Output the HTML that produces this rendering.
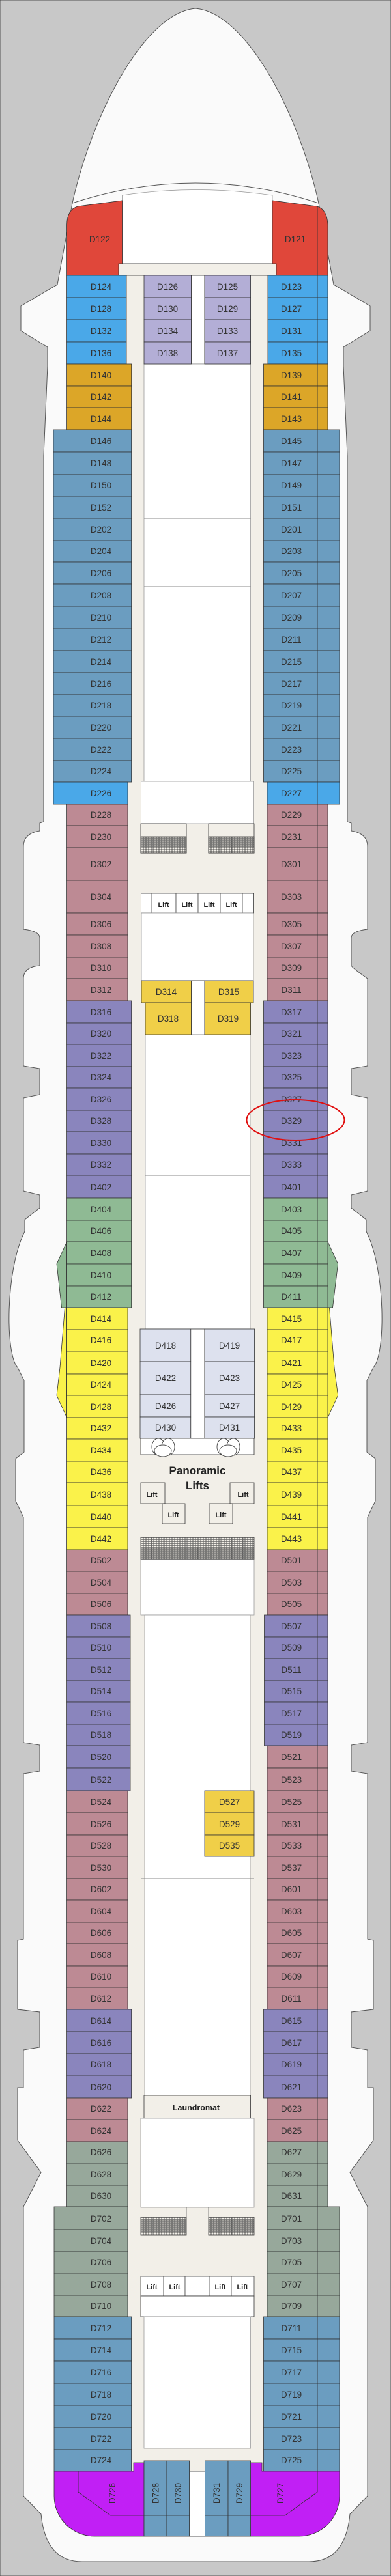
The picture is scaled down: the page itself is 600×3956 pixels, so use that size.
<!DOCTYPE html>
<html><head><meta charset="utf-8"><style>
html,body{margin:0;padding:0;background:#c8c8c8}
svg{display:block}
text{font-family:"Liberation Sans",sans-serif;font-size:13.5px;fill:#333;text-anchor:middle}
.k{font-weight:bold;font-size:11px;fill:#222}
rect,polygon{stroke:#333;stroke-width:.8}
.r{fill:#e0473a}.b{fill:#4aa8e8}.l{fill:#b3aed6}.g{fill:#dca628}.s{fill:#6b9dc0}.m{fill:#bd8a94}.p{fill:#8a85bd}.n{fill:#8fba94}.y{fill:#faf24a}.q{fill:#97a89b}.o{fill:#f0cf48}.w{fill:#dde1ee}.v{fill:#c11ff5}
.wh{fill:#fff;stroke:#999;stroke-width:.8}
.be{fill:#f2efe8;stroke:none}
.lf{fill:#fff;stroke:#555;stroke-width:.9}
</style></head><body>
<svg width="600" height="3956" viewBox="0 0 600 3956" xmlns="http://www.w3.org/2000/svg">
<defs><pattern id="st" width="4" height="3" patternUnits="userSpaceOnUse"><rect width="4" height="3" fill="#f2efe8" stroke="none"/><line x1="0" y1="0.5" x2="4" y2="0.5" stroke="#777" stroke-width=".6"/></pattern></defs>
<rect x="0" y="0" width="600" height="3956" fill="#c8c8c8" stroke="none"/>
<!-- hull -->
<path d="M300,13 C220,20 140,180 111,312 L88,437 L32,470 L32,508 L73,533 L73,562 L67,700 L67,1262 L61,1264 L61,1276 Q36,1280 36,1300 L36,1427 Q61,1430 61,1440 L61,1483 Q36,1485 36,1503 L36,1637 L61,1641 L61,1681 L36,1686 L36,1829 L61,1835 L61,1855 L38,1873 L38,1891 C8,1950 8,2080 27,2100 L37,2120 L37,2230 L24,2240 L24,2305 L36,2330 L36,2676 L61,2680 L61,2720 L36,2724 L36,2978 L27,2980 L27,3086 L61,3090 L61,3144 L36,3148 L36,3206 L27,3206 L27,3287 L63,3336 L36,3389 L36,3833 L63,3861 Q70,3934 126,3934 L474,3934 Q530,3934 537,3861 L564,3833 L564,3389 L537,3336 L573,3287 L573,3206 L564,3206 L564,3148 L539,3144 L539,3090 L573,3086 L573,2980 L564,2978 L564,2724 L539,2720 L539,2680 L564,2676 L564,2330 L576,2305 L576,2240 L563,2230 L563,2120 L573,2100 C592,2080 592,1950 562,1891 L562,1873 L539,1855 L539,1835 L564,1829 L564,1686 L539,1681 L539,1641 L564,1637 L564,1503 Q539,1485 539,1483 L539,1440 Q539,1430 564,1427 L564,1300 Q564,1280 539,1276 L539,1264 L533,1262 L533,700 L527,562 L527,533 L568,508 L568,470 L512,437 L489,312 C460,180 380,20 300,13 Z" fill="#fafafa" stroke="#555" stroke-width="1"/>
<path d="M111,312 Q300,250 489,312" fill="none" stroke="#555" stroke-width="1"/>
<!-- bow hole -->
<path d="M187.5,300 Q300,283 418,300 L418,405 L187.5,405 Z" fill="#fff" stroke="#999" stroke-width=".8"/>
<path d="M102.6,423 L102.6,345 Q103,322 119,317 L187.5,308 L187.5,423 Z" class="r" stroke="#333" stroke-width=".8"/>
<path d="M503,423 L503,345 Q502,322 487,317 L418,308 L418,423 Z" class="r" stroke="#333" stroke-width=".8"/>
<text x="153" y="372">D122</text><text x="453" y="372">D121</text>
<!-- corridor base -->
<rect x="182" y="405" width="242" height="3390" class="be"/>
<rect x="182" y="405" width="242" height="18" fill="#f2efe8" stroke="#888" stroke-width=".8"/>
<rect x="293.5" y="423" width="20.5" height="136" fill="#fff" stroke="none"/>
<rect x="221" y="559" width="163.6" height="641" class="wh"/>
<line x1="221" y1="796" x2="384.6" y2="796" stroke="#888"/>
<line x1="221" y1="901" x2="384.6" y2="901" stroke="#888"/>
<rect x="216.6" y="1200" width="173" height="65" class="wh"/>
<!-- stairs 1 -->
<rect x="216" y="1265" width="70" height="45" fill="none" stroke="#666" stroke-width=".8"/>
<rect x="216" y="1285" width="70" height="25" fill="url(#st)" stroke="#666" stroke-width=".8"/>
<rect x="320" y="1265" width="70" height="45" fill="none" stroke="#666" stroke-width=".8"/>
<rect x="320" y="1285" width="70" height="25" fill="url(#st)" stroke="#666" stroke-width=".8"/>
<g stroke="#666" stroke-width=".8"><line x1="234" y1="1285" x2="234" y2="1310"/><line x1="252" y1="1285" x2="252" y2="1310"/><line x1="268" y1="1285" x2="268" y2="1310"/><line x1="338" y1="1285" x2="338" y2="1310"/><line x1="355" y1="1285" x2="355" y2="1310"/><line x1="372" y1="1285" x2="372" y2="1310"/></g>
<!-- lifts top -->
<rect x="216.6" y="1372" width="173" height="30" fill="#fff" stroke="#666" stroke-width=".8"/>
<rect x="232" y="1372" width="38" height="30" class="lf"/><rect x="270" y="1372" width="34" height="30" class="lf"/><rect x="304" y="1372" width="34" height="30" class="lf"/><rect x="338" y="1372" width="34" height="30" class="lf"/>
<text class="k" x="251" y="1393">Lift</text><text class="k" x="287" y="1393">Lift</text><text class="k" x="321" y="1393">Lift</text><text class="k" x="355" y="1393">Lift</text>
<rect x="217" y="1402" width="172" height="104" class="wh"/>
<rect x="293.5" y="1506" width="20.5" height="83" fill="#fff" stroke="none"/>
<rect x="223" y="1589" width="161" height="452" class="wh"/>
<line x1="223" y1="1805" x2="384" y2="1805" stroke="#888"/>
<rect x="217" y="1506" width="76.5" height="34" class="o"/><text x="255" y="1528">D314</text>
<rect x="223" y="1540" width="70.5" height="49" class="o"/><text x="258" y="1569">D318</text>
<rect x="314" y="1506" width="75" height="34" class="o"/><text x="351" y="1528">D315</text>
<rect x="314" y="1540" width="70.6" height="49" class="o"/><text x="350" y="1569">D319</text>
<!-- D418 block -->
<rect x="292.7" y="2041" width="21.3" height="168" fill="#fff" stroke="none"/>
<rect x="215" y="2041" width="77.7" height="50" class="w"/><text x="254" y="2071">D418</text>
<rect x="215" y="2091" width="77.7" height="51" class="w"/><text x="254" y="2121">D422</text>
<rect x="215" y="2142" width="77.7" height="34" class="w"/><text x="254" y="2164">D426</text>
<rect x="215" y="2176" width="77.7" height="33" class="w"/><text x="254" y="2197">D430</text>
<rect x="314" y="2041" width="76.6" height="50" class="w"/><text x="352" y="2071">D419</text>
<rect x="314" y="2091" width="76.6" height="51" class="w"/><text x="352" y="2121">D423</text>
<rect x="314" y="2142" width="76.6" height="34" class="w"/><text x="352" y="2164">D427</text>
<rect x="314" y="2176" width="76.6" height="33" class="w"/><text x="352" y="2197">D431</text>
<!-- panoramic -->
<rect x="216" y="2209" width="174" height="25" fill="#fff" stroke="#888" stroke-width=".6"/>
<g fill="#fff" stroke="#444" stroke-width=".9"><ellipse cx="243" cy="2222" rx="10" ry="13"/><ellipse cx="258" cy="2222" rx="10" ry="13"/><ellipse cx="250" cy="2228" rx="13" ry="9"/><ellipse cx="343" cy="2222" rx="10" ry="13"/><ellipse cx="358" cy="2222" rx="10" ry="13"/><ellipse cx="350" cy="2228" rx="13" ry="9"/></g>
<text x="303" y="2264" style="font-weight:bold;font-size:17px;fill:#222">Panoramic</text>
<text x="303" y="2287" style="font-weight:bold;font-size:17px;fill:#222">Lifts</text>
<rect x="216" y="2277" width="37" height="32" fill="#f2efe8" stroke="#555" stroke-width=".9"/><text class="k" x="233" y="2299">Lift</text>
<rect x="353" y="2277" width="37" height="32" fill="#f2efe8" stroke="#555" stroke-width=".9"/><text class="k" x="373" y="2299">Lift</text>
<rect x="249" y="2309" width="35" height="31" fill="#f2efe8" stroke="#555" stroke-width=".9"/><text class="k" x="266" y="2330">Lift</text>
<rect x="321" y="2309" width="36" height="31" fill="#f2efe8" stroke="#555" stroke-width=".9"/><text class="k" x="339" y="2330">Lift</text>
<rect x="216" y="2361" width="174" height="34" fill="url(#st)" stroke="#666" stroke-width=".8"/>
<g stroke="#666" stroke-width=".8"><line x1="233" y1="2361" x2="233" y2="2395"/><line x1="251" y1="2361" x2="251" y2="2395"/><line x1="268" y1="2361" x2="268" y2="2395"/><line x1="286" y1="2361" x2="286" y2="2395"/><line x1="303" y1="2375" x2="303" y2="2395"/><line x1="320" y1="2361" x2="320" y2="2395"/><line x1="338" y1="2361" x2="338" y2="2395"/><line x1="355" y1="2361" x2="355" y2="2395"/><line x1="373" y1="2361" x2="373" y2="2395"/></g>
<rect x="216" y="2395" width="174" height="85" class="wh"/>
<rect x="222" y="2480" width="162" height="738" class="wh"/>
<line x1="216" y1="2885" x2="390" y2="2885" stroke="#888"/>
<rect x="314" y="2750" width="76" height="34" class="o"/><text x="352" y="2772">D527</text>
<rect x="314" y="2784" width="76" height="34" class="o"/><text x="352" y="2806">D529</text>
<rect x="314" y="2818" width="76" height="33" class="o"/><text x="352" y="2839">D535</text>
<rect x="221" y="3218" width="163.6" height="35" fill="#f2efe8" stroke="#888" stroke-width=".8"/>
<text x="301" y="3241" style="font-weight:bold;font-size:12.5px;fill:#222">Laundromat</text>
<rect x="216" y="3253" width="174" height="137" class="wh"/>
<rect x="216" y="3405" width="70" height="28" fill="url(#st)" stroke="#666" stroke-width=".8"/>
<rect x="320" y="3405" width="70" height="28" fill="url(#st)" stroke="#666" stroke-width=".8"/>
<g stroke="#666" stroke-width=".8"><line x1="234" y1="3405" x2="234" y2="3433"/><line x1="252" y1="3405" x2="252" y2="3433"/><line x1="268" y1="3405" x2="268" y2="3433"/><line x1="338" y1="3405" x2="338" y2="3433"/><line x1="355" y1="3405" x2="355" y2="3433"/><line x1="372" y1="3405" x2="372" y2="3433"/><line x1="286" y1="3390" x2="286" y2="3405"/><line x1="320" y1="3390" x2="320" y2="3405"/></g>
<rect x="216" y="3496" width="35" height="30" class="lf"/><rect x="251" y="3496" width="33" height="30" class="lf"/><rect x="284" y="3496" width="37" height="30" class="lf"/><rect x="321" y="3496" width="34" height="30" class="lf"/><rect x="355" y="3496" width="35" height="30" class="lf"/>
<text class="k" x="233" y="3516">Lift</text><text class="k" x="268" y="3516">Lift</text><text class="k" x="338" y="3516">Lift</text><text class="k" x="372" y="3516">Lift</text>
<rect x="216" y="3526" width="174" height="32" fill="#fff" stroke="none"/>
<rect x="221" y="3558" width="163.6" height="202" class="wh"/>
<!-- lavender -->
<rect x="221" y="423" width="72.5" height="34" class="l"/><text x="257" y="445">D126</text>
<rect x="221" y="457" width="72.5" height="34" class="l"/><text x="257" y="479">D130</text>
<rect x="221" y="491" width="72.5" height="34" class="l"/><text x="257" y="513">D134</text>
<rect x="221" y="525" width="72.5" height="34" class="l"/><text x="257" y="547">D138</text>
<rect x="314" y="423" width="70.6" height="34" class="l"/><text x="349" y="445">D125</text>
<rect x="314" y="457" width="70.6" height="34" class="l"/><text x="349" y="479">D129</text>
<rect x="314" y="491" width="70.6" height="34" class="l"/><text x="349" y="513">D133</text>
<rect x="314" y="525" width="70.6" height="34" class="l"/><text x="349" y="547">D137</text>
<!-- flares -->
<polygon points="102.6,1907 87,1941 94.5,2008 102.6,2008" class="n"/>
<polygon points="99.5,2008 92,2100 87,2143 102.6,2177 102.6,2008" class="y"/>
<polygon points="503,1907 518.6,1941 510.5,2008 503,2008" class="n"/>
<polygon points="505.5,2008 513,2100 518.6,2143 503,2177 503,2008" class="y"/>
<!-- LEFT cabins -->
<g>
<rect x="102.6" y="423" width="91.4" height="34" class="b"/><text x="155" y="445">D124</text>
<rect x="102.6" y="457" width="91.4" height="34" class="b"/><text x="155" y="479">D128</text>
<rect x="102.6" y="491" width="91.4" height="34" class="b"/><text x="155" y="513">D132</text>
<rect x="102.6" y="525" width="91.4" height="34" class="b"/><text x="155" y="547">D136</text>
<rect x="102.6" y="559" width="99.1" height="34" class="g"/><text x="155" y="581">D140</text>
<rect x="102.6" y="593" width="99.1" height="33" class="g"/><text x="155" y="614">D142</text>
<rect x="102.6" y="626" width="99.1" height="34" class="g"/><text x="155" y="648">D144</text>
<rect x="82" y="660" width="119.7" height="34" class="s"/><text x="155" y="682">D146</text>
<rect x="82" y="694" width="119.7" height="35" class="s"/><text x="155" y="716">D148</text>
<rect x="82" y="729" width="119.7" height="33" class="s"/><text x="155" y="750">D150</text>
<rect x="82" y="762" width="119.7" height="34" class="s"/><text x="155" y="784">D152</text>
<rect x="82" y="796" width="119.7" height="34" class="s"/><text x="155" y="818">D202</text>
<rect x="82" y="830" width="119.7" height="33" class="s"/><text x="155" y="851">D204</text>
<rect x="82" y="863" width="119.7" height="34" class="s"/><text x="155" y="885">D206</text>
<rect x="82" y="897" width="119.7" height="34" class="s"/><text x="155" y="919">D208</text>
<rect x="82" y="931" width="119.7" height="34" class="s"/><text x="155" y="953">D210</text>
<rect x="82" y="965" width="119.7" height="34" class="s"/><text x="155" y="987">D212</text>
<rect x="82" y="999" width="119.7" height="34" class="s"/><text x="155" y="1021">D214</text>
<rect x="82" y="1033" width="119.7" height="34" class="s"/><text x="155" y="1055">D216</text>
<rect x="82" y="1067" width="119.7" height="33" class="s"/><text x="155" y="1088">D218</text>
<rect x="82" y="1100" width="119.7" height="34" class="s"/><text x="155" y="1122">D220</text>
<rect x="82" y="1134" width="119.7" height="34" class="s"/><text x="155" y="1156">D222</text>
<rect x="82" y="1168" width="119.7" height="33" class="s"/><text x="155" y="1189">D224</text>
<rect x="82" y="1201" width="114" height="34" class="b"/><text x="155" y="1223">D226</text>
<rect x="102.6" y="1235" width="93.4" height="33" class="m"/><text x="155" y="1256">D228</text>
<rect x="102.6" y="1268" width="93.4" height="34" class="m"/><text x="155" y="1290">D230</text>
<rect x="102.6" y="1302" width="93.4" height="50" class="m"/><text x="155" y="1332">D302</text>
<rect x="102.6" y="1352" width="93.4" height="50" class="m"/><text x="155" y="1382">D304</text>
<rect x="102.6" y="1402" width="93.4" height="34" class="m"/><text x="155" y="1424">D306</text>
<rect x="102.6" y="1436" width="93.4" height="34" class="m"/><text x="155" y="1458">D308</text>
<rect x="102.6" y="1470" width="93.4" height="33" class="m"/><text x="155" y="1491">D310</text>
<rect x="102.6" y="1503" width="93.4" height="34" class="m"/><text x="155" y="1525">D312</text>
<rect x="102.6" y="1537" width="99.1" height="34" class="p"/><text x="155" y="1559">D316</text>
<rect x="102.6" y="1571" width="99.1" height="33" class="p"/><text x="155" y="1592">D320</text>
<rect x="102.6" y="1604" width="99.1" height="34" class="p"/><text x="155" y="1626">D322</text>
<rect x="102.6" y="1638" width="99.1" height="33" class="p"/><text x="155" y="1659">D324</text>
<rect x="102.6" y="1671" width="99.1" height="34" class="p"/><text x="155" y="1693">D326</text>
<rect x="102.6" y="1705" width="99.1" height="33" class="p"/><text x="155" y="1726">D328</text>
<rect x="102.6" y="1738" width="99.1" height="34" class="p"/><text x="155" y="1760">D330</text>
<rect x="102.6" y="1772" width="99.1" height="33" class="p"/><text x="155" y="1793">D332</text>
<rect x="102.6" y="1805" width="99.1" height="35" class="p"/><text x="155" y="1828">D402</text>
<rect x="102.6" y="1840" width="99.1" height="34" class="n"/><text x="155" y="1862">D404</text>
<rect x="102.6" y="1874" width="99.1" height="33" class="n"/><text x="155" y="1895">D406</text>
<rect x="102.6" y="1907" width="99.1" height="34" class="n"/><text x="155" y="1929">D408</text>
<rect x="102.6" y="1941" width="99.1" height="34" class="n"/><text x="155" y="1963">D410</text>
<rect x="102.6" y="1975" width="99.1" height="33" class="n"/><text x="155" y="1996">D412</text>
<rect x="102.6" y="2008" width="93.4" height="34" class="y"/><text x="155" y="2030">D414</text>
<rect x="102.6" y="2042" width="93.4" height="33" class="y"/><text x="155" y="2063">D416</text>
<rect x="102.6" y="2075" width="93.4" height="35" class="y"/><text x="155" y="2098">D420</text>
<rect x="102.6" y="2110" width="93.4" height="33" class="y"/><text x="155" y="2131">D424</text>
<rect x="102.6" y="2143" width="93.4" height="34" class="y"/><text x="155" y="2165">D428</text>
<rect x="102.6" y="2177" width="93.4" height="33" class="y"/><text x="155" y="2198">D432</text>
<rect x="102.6" y="2210" width="93.4" height="34" class="y"/><text x="155" y="2232">D434</text>
<rect x="102.6" y="2244" width="93.4" height="33" class="y"/><text x="155" y="2265">D436</text>
<rect x="102.6" y="2277" width="93.4" height="35" class="y"/><text x="155" y="2300">D438</text>
<rect x="102.6" y="2312" width="93.4" height="34" class="y"/><text x="155" y="2334">D440</text>
<rect x="102.6" y="2346" width="93.4" height="34" class="y"/><text x="155" y="2368">D442</text>
<rect x="102.6" y="2380" width="93.4" height="33" class="m"/><text x="155" y="2401">D502</text>
<rect x="102.6" y="2413" width="93.4" height="34" class="m"/><text x="155" y="2435">D504</text>
<rect x="102.6" y="2447" width="93.4" height="33" class="m"/><text x="155" y="2468">D506</text>
<rect x="102.6" y="2480" width="97.4" height="34" class="p"/><text x="155" y="2502">D508</text>
<rect x="102.6" y="2514" width="97.4" height="33" class="p"/><text x="155" y="2535">D510</text>
<rect x="102.6" y="2547" width="97.4" height="34" class="p"/><text x="155" y="2569">D512</text>
<rect x="102.6" y="2581" width="97.4" height="33" class="p"/><text x="155" y="2602">D514</text>
<rect x="102.6" y="2614" width="97.4" height="34" class="p"/><text x="155" y="2636">D516</text>
<rect x="102.6" y="2648" width="97.4" height="33" class="p"/><text x="155" y="2669">D518</text>
<rect x="102.6" y="2681" width="97.4" height="34" class="p"/><text x="155" y="2703">D520</text>
<rect x="102.6" y="2715" width="97.4" height="35" class="p"/><text x="155" y="2738">D522</text>
<rect x="102.6" y="2750" width="93.4" height="34" class="m"/><text x="155" y="2772">D524</text>
<rect x="102.6" y="2784" width="93.4" height="34" class="m"/><text x="155" y="2806">D526</text>
<rect x="102.6" y="2818" width="93.4" height="33" class="m"/><text x="155" y="2839">D528</text>
<rect x="102.6" y="2851" width="93.4" height="34" class="m"/><text x="155" y="2873">D530</text>
<rect x="102.6" y="2885" width="93.4" height="33" class="m"/><text x="155" y="2906">D602</text>
<rect x="102.6" y="2918" width="93.4" height="34" class="m"/><text x="155" y="2940">D604</text>
<rect x="102.6" y="2952" width="93.4" height="33" class="m"/><text x="155" y="2973">D606</text>
<rect x="102.6" y="2985" width="93.4" height="34" class="m"/><text x="155" y="3007">D608</text>
<rect x="102.6" y="3019" width="93.4" height="33" class="m"/><text x="155" y="3040">D610</text>
<rect x="102.6" y="3052" width="93.4" height="34" class="m"/><text x="155" y="3074">D612</text>
<rect x="102.6" y="3086" width="99.1" height="34" class="p"/><text x="155" y="3108">D614</text>
<rect x="102.6" y="3120" width="99.1" height="34" class="p"/><text x="155" y="3142">D616</text>
<rect x="102.6" y="3154" width="99.1" height="33" class="p"/><text x="155" y="3175">D618</text>
<rect x="102.6" y="3187" width="99.1" height="35" class="p"/><text x="155" y="3210">D620</text>
<rect x="102.6" y="3222" width="93.4" height="33" class="m"/><text x="155" y="3243">D622</text>
<rect x="102.6" y="3255" width="93.4" height="34" class="m"/><text x="155" y="3277">D624</text>
<rect x="102.6" y="3289" width="93.4" height="33" class="q"/><text x="155" y="3310">D626</text>
<rect x="102.6" y="3322" width="93.4" height="34" class="q"/><text x="155" y="3344">D628</text>
<rect x="102.6" y="3356" width="93.4" height="33" class="q"/><text x="155" y="3377">D630</text>
<rect x="83" y="3389" width="113" height="35" class="q"/><text x="155" y="3412">D702</text>
<rect x="83" y="3424" width="113" height="34" class="q"/><text x="155" y="3446">D704</text>
<rect x="83" y="3458" width="113" height="33" class="q"/><text x="155" y="3479">D706</text>
<rect x="83" y="3491" width="113" height="34" class="q"/><text x="155" y="3513">D708</text>
<rect x="83" y="3525" width="113" height="33" class="q"/><text x="155" y="3546">D710</text>
<rect x="83" y="3558" width="118.7" height="34" class="s"/><text x="155" y="3580">D712</text>
<rect x="83" y="3592" width="118.7" height="34" class="s"/><text x="155" y="3614">D714</text>
<rect x="83" y="3626" width="118.7" height="34" class="s"/><text x="155" y="3648">D716</text>
<rect x="83" y="3660" width="118.7" height="34" class="s"/><text x="155" y="3682">D718</text>
<rect x="83" y="3694" width="118.7" height="34" class="s"/><text x="155" y="3716">D720</text>
<rect x="83" y="3728" width="118.7" height="34" class="s"/><text x="155" y="3750">D722</text>
<rect x="83" y="3762" width="118.7" height="33" class="s"/><text x="155" y="3783">D724</text>
</g>
<!-- RIGHT cabins -->
<g>
<rect x="411" y="423" width="92" height="34" class="b"/><text x="447" y="445">D123</text>
<rect x="411" y="457" width="92" height="34" class="b"/><text x="447" y="479">D127</text>
<rect x="411" y="491" width="92" height="34" class="b"/><text x="447" y="513">D131</text>
<rect x="411" y="525" width="92" height="34" class="b"/><text x="447" y="547">D135</text>
<rect x="404.5" y="559" width="98.5" height="34" class="g"/><text x="447" y="581">D139</text>
<rect x="404.5" y="593" width="98.5" height="33" class="g"/><text x="447" y="614">D141</text>
<rect x="404.5" y="626" width="98.5" height="34" class="g"/><text x="447" y="648">D143</text>
<rect x="404.5" y="660" width="116.5" height="34" class="s"/><text x="447" y="682">D145</text>
<rect x="404.5" y="694" width="116.5" height="35" class="s"/><text x="447" y="716">D147</text>
<rect x="404.5" y="729" width="116.5" height="33" class="s"/><text x="447" y="750">D149</text>
<rect x="404.5" y="762" width="116.5" height="34" class="s"/><text x="447" y="784">D151</text>
<rect x="404.5" y="796" width="116.5" height="34" class="s"/><text x="447" y="818">D201</text>
<rect x="404.5" y="830" width="116.5" height="33" class="s"/><text x="447" y="851">D203</text>
<rect x="404.5" y="863" width="116.5" height="34" class="s"/><text x="447" y="885">D205</text>
<rect x="404.5" y="897" width="116.5" height="34" class="s"/><text x="447" y="919">D207</text>
<rect x="404.5" y="931" width="116.5" height="34" class="s"/><text x="447" y="953">D209</text>
<rect x="404.5" y="965" width="116.5" height="34" class="s"/><text x="447" y="987">D211</text>
<rect x="404.5" y="999" width="116.5" height="34" class="s"/><text x="447" y="1021">D215</text>
<rect x="404.5" y="1033" width="116.5" height="34" class="s"/><text x="447" y="1055">D217</text>
<rect x="404.5" y="1067" width="116.5" height="33" class="s"/><text x="447" y="1088">D219</text>
<rect x="404.5" y="1100" width="116.5" height="34" class="s"/><text x="447" y="1122">D221</text>
<rect x="404.5" y="1134" width="116.5" height="34" class="s"/><text x="447" y="1156">D223</text>
<rect x="404.5" y="1168" width="116.5" height="33" class="s"/><text x="447" y="1189">D225</text>
<rect x="410" y="1201" width="111" height="34" class="b"/><text x="447" y="1223">D227</text>
<rect x="410" y="1235" width="93" height="33" class="m"/><text x="447" y="1256">D229</text>
<rect x="410" y="1268" width="93" height="34" class="m"/><text x="447" y="1290">D231</text>
<rect x="410" y="1302" width="93" height="50" class="m"/><text x="447" y="1332">D301</text>
<rect x="410" y="1352" width="93" height="50" class="m"/><text x="447" y="1382">D303</text>
<rect x="410" y="1402" width="93" height="34" class="m"/><text x="447" y="1424">D305</text>
<rect x="410" y="1436" width="93" height="34" class="m"/><text x="447" y="1458">D307</text>
<rect x="410" y="1470" width="93" height="33" class="m"/><text x="447" y="1491">D309</text>
<rect x="410" y="1503" width="93" height="34" class="m"/><text x="447" y="1525">D311</text>
<rect x="404.5" y="1537" width="98.5" height="34" class="p"/><text x="447" y="1559">D317</text>
<rect x="404.5" y="1571" width="98.5" height="33" class="p"/><text x="447" y="1592">D321</text>
<rect x="404.5" y="1604" width="98.5" height="34" class="p"/><text x="447" y="1626">D323</text>
<rect x="404.5" y="1638" width="98.5" height="33" class="p"/><text x="447" y="1659">D325</text>
<rect x="404.5" y="1671" width="98.5" height="34" class="p"/><text x="447" y="1693">D327</text>
<rect x="404.5" y="1705" width="98.5" height="33" class="p"/><text x="447" y="1726">D329</text>
<rect x="404.5" y="1738" width="98.5" height="34" class="p"/><text x="447" y="1760">D331</text>
<rect x="404.5" y="1772" width="98.5" height="33" class="p"/><text x="447" y="1793">D333</text>
<rect x="404.5" y="1805" width="98.5" height="35" class="p"/><text x="447" y="1828">D401</text>
<rect x="404.5" y="1840" width="98.5" height="34" class="n"/><text x="447" y="1862">D403</text>
<rect x="404.5" y="1874" width="98.5" height="33" class="n"/><text x="447" y="1895">D405</text>
<rect x="404.5" y="1907" width="98.5" height="34" class="n"/><text x="447" y="1929">D407</text>
<rect x="404.5" y="1941" width="98.5" height="34" class="n"/><text x="447" y="1963">D409</text>
<rect x="404.5" y="1975" width="98.5" height="33" class="n"/><text x="447" y="1996">D411</text>
<rect x="410" y="2008" width="93" height="34" class="y"/><text x="447" y="2030">D415</text>
<rect x="410" y="2042" width="93" height="33" class="y"/><text x="447" y="2063">D417</text>
<rect x="410" y="2075" width="93" height="35" class="y"/><text x="447" y="2098">D421</text>
<rect x="410" y="2110" width="93" height="33" class="y"/><text x="447" y="2131">D425</text>
<rect x="410" y="2143" width="93" height="34" class="y"/><text x="447" y="2165">D429</text>
<rect x="410" y="2177" width="93" height="33" class="y"/><text x="447" y="2198">D433</text>
<rect x="410" y="2210" width="93" height="34" class="y"/><text x="447" y="2232">D435</text>
<rect x="410" y="2244" width="93" height="33" class="y"/><text x="447" y="2265">D437</text>
<rect x="410" y="2277" width="93" height="35" class="y"/><text x="447" y="2300">D439</text>
<rect x="410" y="2312" width="93" height="34" class="y"/><text x="447" y="2334">D441</text>
<rect x="410" y="2346" width="93" height="34" class="y"/><text x="447" y="2368">D443</text>
<rect x="410" y="2380" width="93" height="33" class="m"/><text x="447" y="2401">D501</text>
<rect x="410" y="2413" width="93" height="34" class="m"/><text x="447" y="2435">D503</text>
<rect x="410" y="2447" width="93" height="33" class="m"/><text x="447" y="2468">D505</text>
<rect x="405.5" y="2480" width="97.5" height="34" class="p"/><text x="447" y="2502">D507</text>
<rect x="405.5" y="2514" width="97.5" height="33" class="p"/><text x="447" y="2535">D509</text>
<rect x="405.5" y="2547" width="97.5" height="34" class="p"/><text x="447" y="2569">D511</text>
<rect x="405.5" y="2581" width="97.5" height="33" class="p"/><text x="447" y="2602">D515</text>
<rect x="405.5" y="2614" width="97.5" height="34" class="p"/><text x="447" y="2636">D517</text>
<rect x="405.5" y="2648" width="97.5" height="33" class="p"/><text x="447" y="2669">D519</text>
<rect x="410" y="2681" width="93" height="34" class="m"/><text x="447" y="2703">D521</text>
<rect x="410" y="2715" width="93" height="35" class="m"/><text x="447" y="2738">D523</text>
<rect x="410" y="2750" width="93" height="34" class="m"/><text x="447" y="2772">D525</text>
<rect x="410" y="2784" width="93" height="34" class="m"/><text x="447" y="2806">D531</text>
<rect x="410" y="2818" width="93" height="33" class="m"/><text x="447" y="2839">D533</text>
<rect x="410" y="2851" width="93" height="34" class="m"/><text x="447" y="2873">D537</text>
<rect x="410" y="2885" width="93" height="33" class="m"/><text x="447" y="2906">D601</text>
<rect x="410" y="2918" width="93" height="34" class="m"/><text x="447" y="2940">D603</text>
<rect x="410" y="2952" width="93" height="33" class="m"/><text x="447" y="2973">D605</text>
<rect x="410" y="2985" width="93" height="34" class="m"/><text x="447" y="3007">D607</text>
<rect x="410" y="3019" width="93" height="33" class="m"/><text x="447" y="3040">D609</text>
<rect x="410" y="3052" width="93" height="34" class="m"/><text x="447" y="3074">D611</text>
<rect x="404.5" y="3086" width="98.5" height="34" class="p"/><text x="447" y="3108">D615</text>
<rect x="404.5" y="3120" width="98.5" height="34" class="p"/><text x="447" y="3142">D617</text>
<rect x="404.5" y="3154" width="98.5" height="33" class="p"/><text x="447" y="3175">D619</text>
<rect x="404.5" y="3187" width="98.5" height="35" class="p"/><text x="447" y="3210">D621</text>
<rect x="410" y="3222" width="93" height="33" class="m"/><text x="447" y="3243">D623</text>
<rect x="410" y="3255" width="93" height="34" class="m"/><text x="447" y="3277">D625</text>
<rect x="410" y="3289" width="93" height="33" class="q"/><text x="447" y="3310">D627</text>
<rect x="410" y="3322" width="93" height="34" class="q"/><text x="447" y="3344">D629</text>
<rect x="410" y="3356" width="93" height="33" class="q"/><text x="447" y="3377">D631</text>
<rect x="410" y="3389" width="111" height="35" class="q"/><text x="447" y="3412">D701</text>
<rect x="410" y="3424" width="111" height="34" class="q"/><text x="447" y="3446">D703</text>
<rect x="410" y="3458" width="111" height="33" class="q"/><text x="447" y="3479">D705</text>
<rect x="410" y="3491" width="111" height="34" class="q"/><text x="447" y="3513">D707</text>
<rect x="410" y="3525" width="111" height="33" class="q"/><text x="447" y="3546">D709</text>
<rect x="404.5" y="3558" width="116.5" height="34" class="s"/><text x="447" y="3580">D711</text>
<rect x="404.5" y="3592" width="116.5" height="34" class="s"/><text x="447" y="3614">D715</text>
<rect x="404.5" y="3626" width="116.5" height="34" class="s"/><text x="447" y="3648">D717</text>
<rect x="404.5" y="3660" width="116.5" height="34" class="s"/><text x="447" y="3682">D719</text>
<rect x="404.5" y="3694" width="116.5" height="34" class="s"/><text x="447" y="3716">D721</text>
<rect x="404.5" y="3728" width="116.5" height="34" class="s"/><text x="447" y="3750">D723</text>
<rect x="404.5" y="3762" width="116.5" height="33" class="s"/><text x="447" y="3783">D725</text>
</g>
<!-- dividers -->
<line x1="119.4" y1="317" x2="119.4" y2="3795" stroke="#333" stroke-width=".8"/>
<line x1="487" y1="317" x2="487" y2="3795" stroke="#333" stroke-width=".8"/>
<!-- stern -->
<rect x="290.6" y="3795" width="24" height="100" fill="#fff" stroke="none"/>
<path d="M83,3795 L205,3795 L205,3782 L221,3782 L221,3895 L145,3895 A62,62 0 0 1 83,3833 Z" class="v" stroke="#333" stroke-width=".8"/>
<polyline points="120,3795 120,3827 169.5,3863 221,3863" fill="none" stroke="#333" stroke-width=".8"/>
<path d="M521,3795 L402,3795 L402,3782 L384.6,3782 L384.6,3895 L459,3895 A62,62 0 0 0 521,3833 Z" class="v" stroke="#333" stroke-width=".8"/>
<polyline points="487,3795 487,3827 437.5,3863 384.6,3863" fill="none" stroke="#333" stroke-width=".8"/>
<rect x="221" y="3779" width="35" height="116" class="s"/><rect x="256" y="3779" width="34.6" height="116" class="s"/>
<rect x="314.6" y="3779" width="35.4" height="116" class="s"/><rect x="350" y="3779" width="34.6" height="116" class="s"/>
<line x1="221" y1="3863" x2="290.6" y2="3863" stroke="#333" stroke-width=".8"/>
<line x1="314.6" y1="3863" x2="384.6" y2="3863" stroke="#333" stroke-width=".8"/>
<text transform="translate(172,3829) rotate(-90)" dy="5">D726</text>
<text transform="translate(238.5,3829) rotate(-90)" dy="5">D728</text>
<text transform="translate(273,3829) rotate(-90)" dy="5">D730</text>
<text transform="translate(332,3829) rotate(-90)" dy="5">D731</text>
<text transform="translate(367,3829) rotate(-90)" dy="5">D729</text>
<text transform="translate(430,3829) rotate(-90)" dy="5">D727</text>
<!-- highlight -->
<ellipse cx="453.5" cy="1720" rx="75" ry="31" fill="none" stroke="#e01010" stroke-width="2"/>
</svg>
</body></html>
